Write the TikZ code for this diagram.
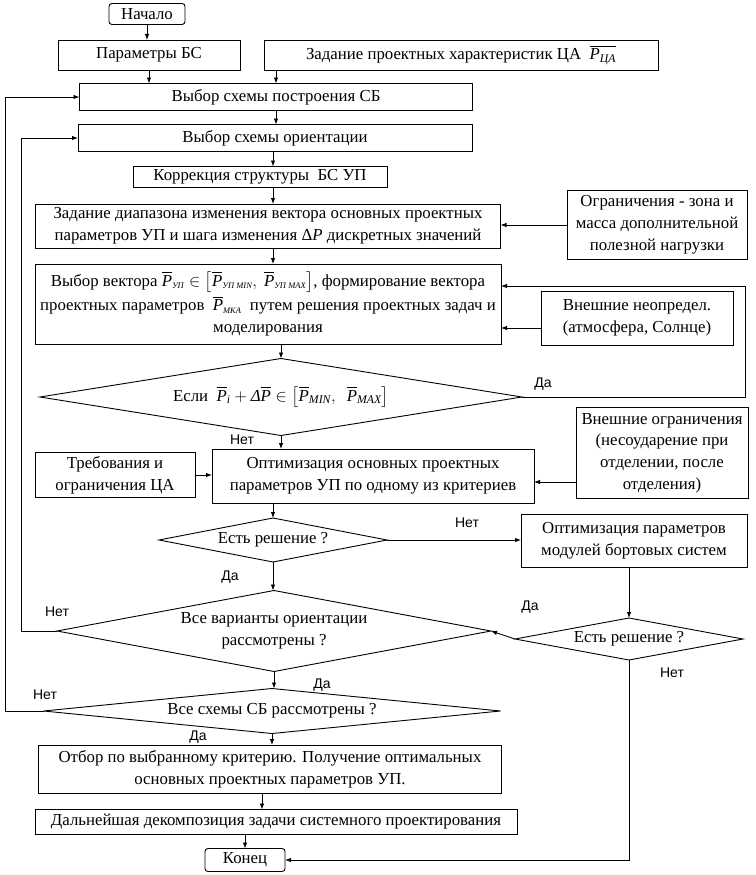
\RequirePackage{fix-cm}
\documentclass[tikz,border=0pt]{standalone}
\usepackage{amsmath}
\usepackage{fontspec}
\setmainfont{Liberation Serif}
\newfontfamily\lblfont{Liberation Sans}
\usetikzlibrary{shapes.geometric,arrows.meta,calc}
\newcommand\mtxt{\fontsize{16.8}{21.8}\selectfont}
\newcommand\vecP{\overline{\textit{P}}}
\newcommand\sbt[1]{_{\textit{#1}}}
\newcommand\tsb[1]{_{\mbox{\fontsize{8.5}{9}\selectfont\itshape #1}}}
\begin{document}
\begin{tikzpicture}[x=1pt,y=-1pt,
  box/.style={draw, line width=0.9pt, inner sep=0pt, outer sep=0pt, align=center, font=\mtxt},
  dia/.style={diamond, draw, line width=0.9pt, inner sep=0pt, outer sep=0pt},
  txt/.style={inner sep=0pt, align=center, font=\mtxt},
  lbl/.style={inner sep=0pt, font=\lblfont\fontsize{14}{16}\selectfont},
  arr/.style={draw, line width=0.9pt, -{Latex[length=6pt,width=4.5pt]}}]
\useasboundingbox (0,0) rectangle (755,875);

% nodes
\node[box, minimum width=76pt, minimum height=21pt, rounded corners=3pt] (nach) at (147,14) {Начало};
\node[box, minimum width=182pt, minimum height=30pt] (param) at (149,55) {Параметры БС};
\node[box, minimum width=394pt, minimum height=30pt] (zad) at (461,55) {Задание проектных характеристик ЦА \ $\overline{\textit{P}\sbt{ЦА}}$};
\node[box, minimum width=393pt, minimum height=27pt] (vyb1) at (276,97) {Выбор схемы построения СБ};
\node[box, minimum width=394pt, minimum height=27pt] (vyb2) at (275,138) {Выбор схемы ориентации};
\node[box, minimum width=254pt, minimum height=21pt] (korr) at (260,177) {Коррекция структуры \ БС УП};
\node[box, minimum width=465pt, minimum height=44pt] (zd) at (268,226) {Задание диапазона изменения вектора основных проектных\\параметров УП и шага изменения Δ\textit{P} дискретных значений};
\node[box, minimum width=180pt, minimum height=69pt] (ogr) at (657,225) {Ограничения - зона и\\масса дополнительной\\полезной нагрузки};
\node[box, minimum width=466pt, minimum height=80pt] (vv) at (268,304) {Выбор вектора $\vecP\tsb{УП}\in\left[\vecP\tsb{УП MIN},\ \vecP\tsb{УП MAX}\right]$, формирование вектора\\[3pt]проектных параметров \ $\vecP\tsb{МКА}$ \ путем решения проектных задач и\\моделирования};
\node[box, minimum width=192pt, minimum height=54pt] (vneo) at (637,318) {Внешние неопредел.\\(атмосфера, Солнце)};
\node[dia, minimum width=482pt, minimum height=77pt] (d1) at (281,397) {};
\node[txt] (d1t) at (d1) {Если \ $\vecP\sbt{i} + \textit{Δ}\vecP \in \left[\vecP\sbt{MIN},\ \ \vecP\sbt{MAX}\right]$};
\node[box, minimum width=172pt, minimum height=91pt] (vogr) at (662,453) {Внешние ограничения\\(несоударение при\\отделении, после\\отделения)};
\node[box, minimum width=160pt, minimum height=45pt] (treb) at (115,475) {Требования и\\ограничения ЦА};
\node[box, minimum width=322pt, minimum height=54pt] (opt) at (373,476) {Оптимизация основных проектных\\параметров УП по одному из критериев};
\node[dia, minimum width=228pt, minimum height=44pt] (d2) at (273,540) {};
\node[txt] (d2t) at (d2) {Есть решение ?};
\node[box, minimum width=226pt, minimum height=53pt] (optp) at (634,541) {Оптимизация параметров\\модулей бортовых систем};
\node[dia, minimum width=434pt, minimum height=81pt] (d3) at (274,631) {};
\node[txt] (d3t) at (d3) {Все варианты ориентации\\рассмотрены ?};
\node[dia, minimum width=228pt, minimum height=42pt] (d4) at (629,639) {};
\node[txt] (d4t) at (d4) {Есть решение ?};
\node[dia, minimum width=457pt, minimum height=45pt] (d5) at (272,711) {};
\node[txt] (d5t) at (d5) {Все схемы СБ рассмотрены ?};
\node[box, minimum width=463pt, minimum height=48pt] (otb) at (270,769) {Отбор по выбранному критерию. Получение оптимальных\\основных проектных параметров УП.};
\node[box, minimum width=482pt, minimum height=25pt] (dal) at (276,822) {Дальнейшая декомпозиция задачи системного проектирования};
\node[box, minimum width=80pt, minimum height=23pt, rounded corners=3pt] (kon) at (245,860) {Конец};

% helper coordinates
\coordinate (sp) at (273,0);
\coordinate (sp2) at (262,0);
\coordinate (lr) at (745,0);
\coordinate (ll1) at (21,0);
\coordinate (ll2) at (5,0);
\coordinate (vvin) at ($(vv.east)+(0,-18)$);
\coordinate (vvin2) at ($(vv.east)+(0,24)$);
\coordinate (optin) at ($(opt.east)+(0,6)$);

% connectors
\draw[arr] (nach.south) -- (nach.south |- param.north);
\draw[arr] (param.south) -- (param.south |- vyb1.north);
\draw[arr] (vyb1.north |- zad.south) -- (vyb1.north);
\draw[arr] (vyb1.south) -- (vyb1.south |- vyb2.north);
\draw[arr] (sp |- vyb2.south) -- (sp |- korr.north);
\draw[arr] (sp |- korr.south) -- (sp |- zd.north);
\draw[arr] (sp |- zd.south) -- (sp |- vv.north);
\draw[arr] (d1.north |- vv.south) -- (d1.north);
\draw[arr] (d1.south) -- (d1.south |- opt.north);
\draw[arr] (d1.east) -- (d1.east -| lr) -- (lr |- vvin) -- (vvin);
\draw[arr] (ogr.west) -- (ogr.west -| zd.east);
\draw[arr] (vneo.west |- vvin2) -- (vvin2);
\draw[arr] (treb.east) -- (treb.east -| opt.west);
\draw[arr] (vogr.west |- optin) -- (optin);
\draw[arr] (d2.north |- opt.south) -- (d2.north);
\draw[arr] (d2.east) -- (d2.east -| optp.west);
\draw[arr] (d2.south) -- (d2.south |- d3.north);
\draw[arr] (d4.north |- optp.south) -- (d4.north);
\draw[arr] (d4.west) -- (d3.east);
\draw[arr] (d4.south) -- (d4.south |- kon.east) -- (kon.east);
\draw[arr] (d3.west) -- (d3.west -| ll1) -- (ll1 |- vyb2.west) -- (vyb2.west);
\draw[arr] (d5.west) -- (d5.west -| ll2) -- (ll2 |- vyb1.west) -- (vyb1.west);
\draw[arr] (d3.south) -- (d3.south |- d5.north);
\draw[arr] (d5.south) -- (d5.south |- otb.north);
\draw[arr] (sp2 |- otb.south) -- (sp2 |- dal.north);
\draw[arr] (kon.north |- dal.south) -- (kon.north);

% labels
\node[lbl] (l1) at (543,384) {Да};
\node[lbl] (l2) at (242,440) {Нет};
\node[lbl] (l3) at (467,523) {Нет};
\node[lbl] (l4) at (230,577) {Да};
\node[lbl] (l5) at (530,607) {Да};
\node[lbl] (l6) at (57,612) {Нет};
\node[lbl] (l7) at (672,673) {Нет};
\node[lbl] (l8) at (322,685) {Да};
\node[lbl] (l9) at (45,695) {Нет};
\node[lbl] (l10) at (198,737) {Да};
\end{tikzpicture}
\end{document}
